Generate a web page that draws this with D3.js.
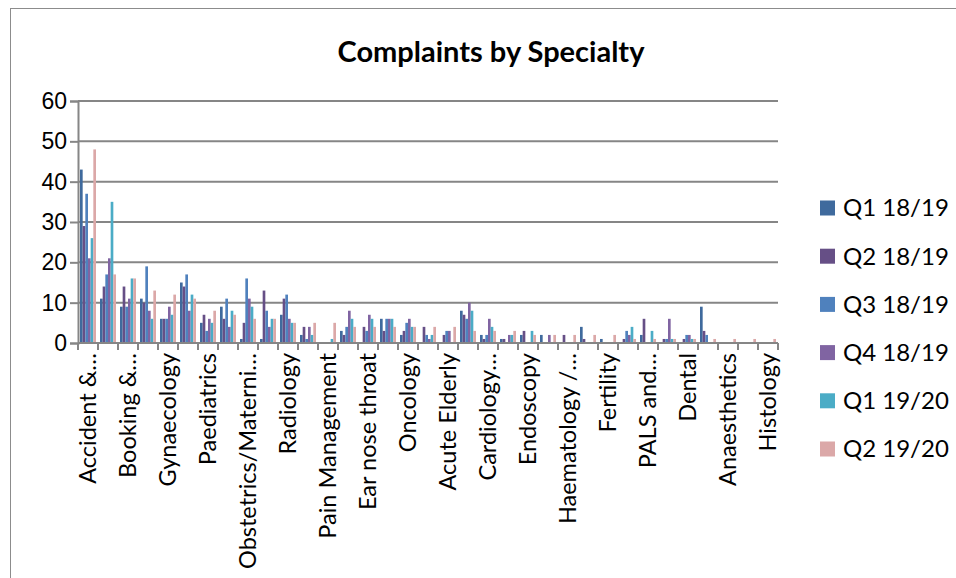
<!DOCTYPE html>
<html>
<head>
<meta charset="utf-8">
<script src="https://cdn.jsdelivr.net/npm/d3@7"></script>
<style>
  body { margin: 0; background: #fff; }
  svg { display: block; font-family: Lato, "Open Sans", sans-serif; }
</style>
</head>
<body>
<svg id="chart" width="956" height="578"></svg>
<script>
// specialties, only every other one carries a visible label in the original
let specialties = [
    'Accident &…', 'cat01', 'Booking &…', 'cat03', 'Gynaecology', 'cat05',
    'Paediatrics', 'cat07', 'Obstetrics/Materni…', 'cat09', 'Radiology', 'cat11',
    'Pain Management', 'cat13', 'Ear nose throat', 'cat15', 'Oncology', 'cat17',
    'Acute Elderly', 'cat19', 'Cardiology…', 'cat21', 'Endoscopy', 'cat23',
    'Haematology /…', 'cat25', 'Fertility', 'cat27', 'PALS and…', 'cat29',
    'Dental', 'cat31', 'Anaesthetics', 'cat33', 'Histology'
];
let quarters = ['Q1 18/19', 'Q2 18/19', 'Q3 18/19', 'Q4 18/19', 'Q1 19/20', 'Q2 19/20'];

let q1_1819 = [43, 11, 9, 11, 6, 15, 5, 9, 1, 1, 7, 2, 0, 3, 0, 6, 2, 0, 0, 8, 2, 1, 2, 2, 0, 4, 1, 0, 2, 0, 0, 9, 0, 0, 0];
let q2_1819 = [29, 14, 14, 10, 6, 14, 7, 6, 5, 13, 11, 4, 0, 2, 4, 3, 3, 4, 2, 7, 1, 1, 3, 0, 2, 1, 0, 1, 6, 1, 1, 3, 0, 0, 0];
let q3_1819 = [37, 17, 9, 19, 6, 17, 3, 11, 16, 8, 12, 1, 0, 4, 3, 6, 5, 2, 3, 6, 2, 0, 0, 0, 0, 0, 0, 3, 0, 1, 2, 2, 0, 0, 0];
let q4_1819 = [21, 21, 11, 8, 9, 8, 6, 4, 11, 4, 6, 4, 0, 8, 7, 6, 6, 1, 3, 10, 6, 2, 0, 2, 0, 0, 0, 2, 0, 6, 2, 0, 0, 0, 0];
let q1_1920 = [26, 35, 16, 6, 7, 12, 5, 8, 9, 6, 5, 2, 1, 6, 6, 6, 4, 2, 0, 8, 4, 2, 3, 0, 0, 0, 0, 4, 3, 1, 1, 0, 0, 0, 0];
let q2_1920 = [48, 17, 16, 13, 12, 11, 8, 7, 6, 6, 5, 5, 5, 4, 4, 4, 4, 4, 4, 3, 3, 3, 2, 2, 2, 2, 2, 1, 1, 1, 1, 1, 1, 1, 1];

let yTicks = [0, 10, 20, 30, 40, 50, 60];
let colors = ['#3f6a9d', '#664f86', '#4f81bd', '#8064a2', '#4bacc6', '#dba8a8'];

let series = [q1_1819, q2_1819, q3_1819, q4_1819, q1_1920, q2_1920];
let data = specialties.map((name, i) => {
    let row = { name: name };
    quarters.forEach((q, k) => { row[q] = series[k][i]; });
    return row;
});

let svg = d3.select('#chart');
let margin = { top: 101, left: 78, right: 178, bottom: 235 };
let width = 956 - margin.left - margin.right;   // 700
let height = 578 - margin.top - margin.bottom;  // 242

// chart area border
svg.append('rect')
    .attr('x', 10.5).attr('y', 8.5)
    .attr('width', 960).attr('height', 600)
    .attr('fill', 'none')
    .attr('stroke', '#8c8c8c');

svg.append('text')
    .attr('x', 491).attr('y', 62)
    .attr('text-anchor', 'middle')
    .attr('font-weight', 'bold')
    .attr('font-size', 29)
    .attr('fill', '#000')
    .text('Complaints by Specialty');

let g = svg.append('g').attr('transform', 'translate(' + margin.left + ',' + margin.top + ')');

let x0 = d3.scaleBand()
    .domain(specialties)
    .range([0, width])
    .paddingInner(0.2)
    .paddingOuter(0.1);

let x1 = d3.scaleBand()
    .domain(quarters)
    .range([0, x0.bandwidth()]);

let y = d3.scaleLinear().domain([0, 60]).range([height, 0]);
let z = d3.scaleOrdinal().domain(quarters).range(colors);

// gridlines + y axis
let yAxis = g.append('g')
    .call(d3.axisLeft(y).tickValues(yTicks).tickSize(8).tickPadding(3));
yAxis.select('.domain').attr('stroke', '#868686').attr('stroke-width', 2);
yAxis.selectAll('.tick line').attr('stroke', '#868686').attr('stroke-width', 2);
yAxis.selectAll('.tick text').attr('font-size', 23).attr('fill', '#000');

g.append('g')
    .selectAll('line')
    .data(yTicks.filter(d => d > 0))
    .enter().append('line')
    .attr('x1', 0).attr('x2', width)
    .attr('y1', d => y(d)).attr('y2', d => y(d))
    .attr('stroke', '#868686')
    .attr('stroke-width', 2);

// bars
g.append('g')
    .selectAll('g')
    .data(data)
    .enter().append('g')
    .attr('transform', d => 'translate(' + x0(d.name) + ',0)')
    .selectAll('rect')
    .data(d => quarters.map(q => ({ key: q, value: d[q] })))
    .enter().append('rect')
    .attr('x', d => x1(d.key))
    .attr('y', d => y(d.value))
    .attr('width', x1.bandwidth())
    .attr('height', d => height - y(d.value))
    .attr('fill', d => z(d.key));

// x axis, ticks sit between categories like in Excel
let step = x0.step();
let bounds = specialties.map(s => x0(s) - step * x0.paddingInner() / 2);
bounds.push(width);

let xg = g.append('g').attr('transform', 'translate(0,' + height + ')');
xg.append('line')
    .attr('x1', 0).attr('x2', width)
    .attr('stroke', '#868686').attr('stroke-width', 2);
xg.selectAll('.xtick')
    .data(bounds)
    .enter().append('line')
    .attr('class', 'xtick')
    .attr('x1', d => d).attr('x2', d => d)
    .attr('y1', 0).attr('y2', 7)
    .attr('stroke', '#868686').attr('stroke-width', 2);

xg.selectAll('.xlabel')
    .data(specialties.filter((s, i) => i % 2 === 0))
    .enter().append('text')
    .attr('class', 'xlabel')
    .attr('transform', d => 'translate(' + (x0(d) + x0.bandwidth() / 2) + ',10) rotate(-90)')
    .attr('text-anchor', 'end')
    .attr('dy', '0.35em')
    .attr('font-size', 23.5)
    .attr('fill', '#000')
    .text(d => d);

// legend
let legend = svg.append('g')
    .selectAll('g')
    .data(quarters)
    .enter().append('g')
    .attr('transform', (d, i) => 'translate(820,' + (208 + i * 48.2) + ')');

legend.append('rect')
    .attr('x', 0).attr('y', -7.5)
    .attr('width', 15).attr('height', 15)
    .attr('fill', z);

legend.append('text')
    .attr('x', 23)
    .attr('dy', '0.35em')
    .attr('font-size', 24)
    .attr('fill', '#000')
    .text(d => d);
</script>
</body>
</html>
